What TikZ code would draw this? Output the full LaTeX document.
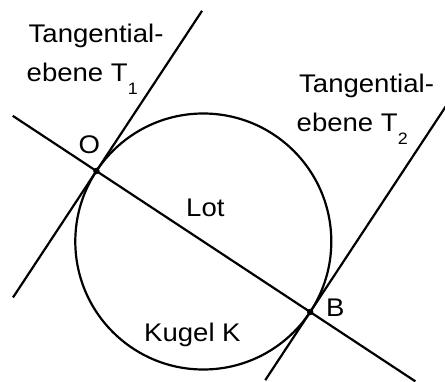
\documentclass[tikz,border=0pt]{standalone}
\usepackage{fontspec}
\setmainfont{Liberation Sans}
\usetikzlibrary{calc}

\newcommand{\tsub}[1]{\raisebox{-12.5pt}{\fontsize{16.5}{16.5}\selectfont #1}}
\newcommand{\wide}[1]{\scalebox{1.08}[1]{#1}}

\begin{document}
\begin{tikzpicture}[x=1pt, y=-1pt,
    % Styles
    line/.style={line width=2.2pt},
    lbl/.style={anchor=base west, inner sep=0pt, font=\fontsize{25.5}{30}\selectfont},
    pnt/.style={fill, circle, inner sep=0pt, minimum size=6.5pt}
  ]
    \useasboundingbox (0,0) rectangle (445,382);

    % === Contact points and centre of the sphere ===
    \coordinate (O) at (96.4,171);
    \coordinate (B) at (310.2,312);
    \coordinate (M) at ($(O)!0.5!(B)$);

    % === Free ends of the lines ===
    \coordinate (lotL) at ($(O)!-100.2pt!(B)$);
    \coordinate (lotR) at ($(B)!-126pt!(O)$);
    \coordinate (t1U) at ($(O)!191.9pt!90:(B)$);
    \coordinate (t1D) at ($(O)!151.5pt!-90:(B)$);
    \coordinate (t2U) at ($(B)!246.2pt!-90:(O)$);
    \coordinate (t2D) at ($(B)!81.7pt!90:(O)$);

    % === Sphere ===
    \draw[line] (M) circle (128);

    % === Lot and tangent planes ===
    \draw[line] (lotL) -- (lotR);
    \draw[line] (t1D) -- (t1U);
    \draw[line] (t2D) -- (t2U);

    % === Points ===
    \node[pnt] (dotO) at (O) {};
    \node[pnt] (dotB) at (B) {};

    % === Labels ===
    \node[lbl] (t1a) at (28.5,42.3) {\wide{Tangential-}};
    \node[lbl] (t1b) at (26.5,81.7) {\wide{ebene T\tsub{1}}};
    \node[lbl] (t2a) at (299,92.3) {\wide{Tangential-}};
    \node[lbl] (t2b) at (296.5,131.7) {\wide{ebene T\tsub{2}}};
    \node[lbl] (lblO) at (78.5,154) {\wide{O}};
    \node[lbl] (lblB) at (326,316.7) {\wide{B}};
    \node[lbl] (lot) at (186,216.7) {\wide{Lot}};
    \node[lbl] (kugel) at (144,341.7) {\wide{Kugel K}};

  \end{tikzpicture}
\end{document}
